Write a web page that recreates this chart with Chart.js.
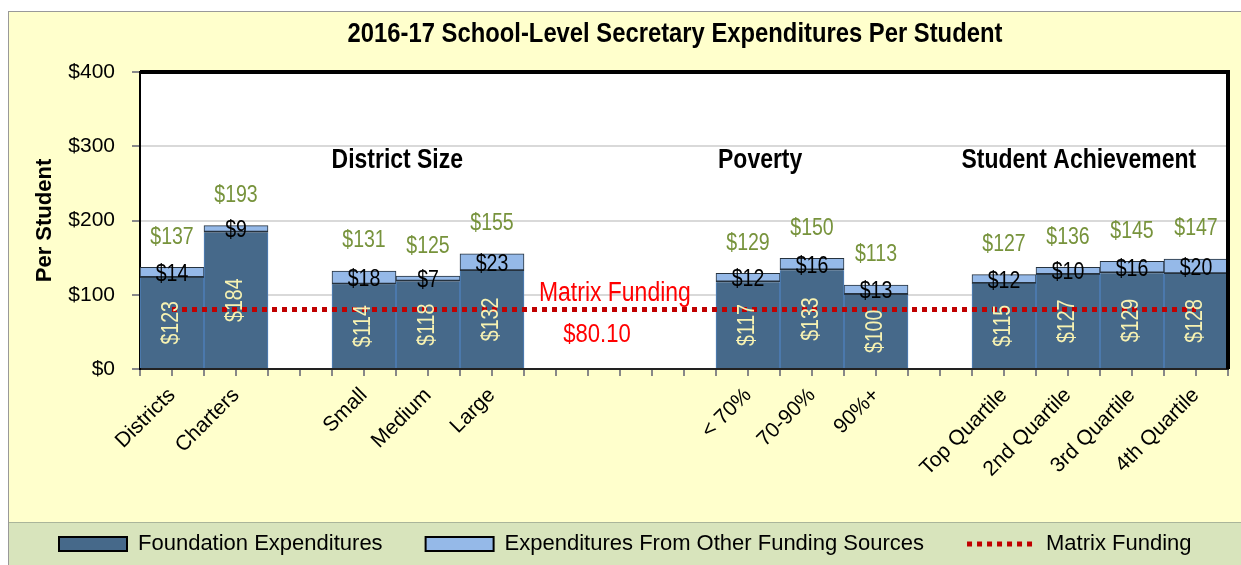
<!DOCTYPE html>
<html>
<head>
<meta charset="utf-8">
<script src="https://cdn.jsdelivr.net/npm/chart.js@4.4.1/dist/chart.umd.min.js"></script>
<style>
  html, body { margin: 0; padding: 0; background: #fff; }
  #wrap { width: 1241px; height: 565px; position: relative; }
</style>
</head>
<body>
<div id="wrap"><canvas id="school-chart"></canvas></div>
<script>
// categories (blank ones are the gaps between groups)
var categories = ['Districts', 'Charters', '', 'Small', 'Medium', 'Large', '', '', '',
  '< 70%', '70-90%', '90%+', '', 'Top Quartile', '2nd Quartile', '3rd Quartile', '4th Quartile'];
var foundation = [123, 184, null, 114, 118, 132, null, null, null, 117, 133, 100, null, 115, 127, 129, 128];
var otherSources = [14, 9, null, 18, 7, 23, null, null, null, 12, 16, 13, null, 12, 10, 16, 20];
var totals = [137, 193, null, 131, 125, 155, null, null, null, 129, 150, 113, null, 127, 136, 145, 147];
var matrixFunding = [80.1, 80.1, 80.1, 80.1, 80.1, 80.1, 80.1, 80.1, 80.1, 80.1, 80.1, 80.1, 80.1, 80.1, 80.1, 80.1, 80.1];
var yTicks = [0, 100, 200, 300, 400];
var tickSlots = ['', '', '', '', '', '', '', '', '', '', '', '', '', '', '', '', '',
  '', '', '', '', '', '', '', '', '', '', '', '', '', '', '', '', ''];

var FONT = '"Liberation Sans", Arial, sans-serif';

// draws text squeezed sideways, to look like Arial Narrow
function narrowText(c, text, x, y, font, color, angle) {
  c.save();
  c.translate(x, y);
  if (angle) c.rotate(angle);
  c.scale(0.85, 1);
  c.font = font;
  c.fillStyle = color;
  c.textAlign = 'center';
  c.textBaseline = 'middle';
  c.fillText(text, 0, 0);
  c.restore();
}

// background, frame, title, data labels and text boxes
var decor = {
  id: 'decor',
  beforeDraw: function(chart) {
    var c = chart.ctx, a = chart.chartArea;
    c.save();
    c.fillStyle = '#fff';
    c.fillRect(0, 0, chart.width, chart.height);
    c.fillStyle = '#FFFFCC';
    c.fillRect(8, 11, chart.width, chart.height);
    c.strokeStyle = '#999';
    c.lineWidth = 1;
    c.strokeRect(8.5, 11.5, chart.width, chart.height);
    c.fillStyle = '#D8E4BC';
    c.fillRect(9, 522, chart.width, chart.height);
    c.strokeStyle = '#AAB59A';
    c.beginPath(); c.moveTo(9, 522.5); c.lineTo(chart.width, 522.5); c.stroke();
    c.fillStyle = '#fff';
    c.fillRect(a.left, a.top, a.right - a.left, a.bottom - a.top);
    c.restore();
  },
  afterDatasetsDraw: function(chart) {
    var c = chart.ctx, a = chart.chartArea;
    var x = chart.scales.x, y = chart.scales.y;
    var m0 = chart.getDatasetMeta(0), m1 = chart.getDatasetMeta(1);
    c.save();
    // plot frame
    c.strokeStyle = '#000';
    c.lineWidth = 4;
    c.beginPath();
    c.moveTo(a.left, a.top); c.lineTo(a.right, a.top); c.lineTo(a.right, a.bottom);
    c.stroke();
    c.restore();

    for (var i = 0; i < categories.length; i++) {
      if (foundation[i] == null) continue;
      var b0 = m0.data[i], b1 = m1.data[i];
      narrowText(c, '$' + foundation[i], b0.x, (b0.y + b0.base) / 2, '23px ' + FONT, '#F7F2B2', -Math.PI / 2);
      narrowText(c, '$' + otherSources[i], b1.x, (b1.y + b1.base) / 2 + 2, '23px ' + FONT, '#000');
      narrowText(c, '$' + totals[i], b1.x, b1.y - 30, '23px ' + FONT, '#77933C');
    }

    // group headings
    var hy = y.getPixelForValue(281);
    narrowText(c, 'District Size', x.getPixelForValue(3.52), hy, 'bold 27px ' + FONT, '#000');
    narrowText(c, 'Poverty', x.getPixelForValue(9.19), hy, 'bold 27px ' + FONT, '#000');
    narrowText(c, 'Student Achievement', x.getPixelForValue(14.17), hy, 'bold 27px ' + FONT, '#000');

    // matrix funding note
    narrowText(c, 'Matrix Funding', x.getPixelForValue(6.92), y.getPixelForValue(102), '27px ' + FONT, '#FF0000');
    narrowText(c, '$80.10', x.getPixelForValue(6.64), y.getPixelForValue(46), '26px ' + FONT, '#FF0000');

    // title
    narrowText(c, '2016-17 School-Level Secretary Expenditures Per Student', 675, 34, 'bold 28px ' + FONT, '#000');
  }
};

var ctx = document.getElementById('school-chart');
var myChart = new Chart(ctx, {
  type: 'bar',
  data: {
    labels: categories,
    datasets: [{
      label: 'Foundation Expenditures',
      data: foundation,
      backgroundColor: '#46698A',
      borderColor: '#4F81BD',
      borderWidth: { left: 1, right: 1, top: 0, bottom: 0 },
      borderSkipped: false,
      stack: 's',
      order: 1
    }, {
      label: 'Expenditures From Other Funding Sources',
      data: otherSources,
      backgroundColor: '#95B9E8',
      borderColor: '#26323E',
      borderWidth: { left: 1, right: 1, top: 1, bottom: 2 },
      borderSkipped: false,
      stack: 's',
      order: 1
    }, {
      type: 'line',
      label: 'Matrix Funding',
      data: matrixFunding,
      borderColor: '#C00000',
      backgroundColor: '#C00000',
      borderWidth: 5,
      borderDash: [5, 5],
      pointRadius: 0,
      pointStyle: 'line',
      fill: false,
      order: 0
    }]
  },
  options: {
    responsive: true,
    maintainAspectRatio: false,
    animation: false,
    layout: { padding: { left: 16, right: 0, top: 72, bottom: 0 } },
    datasets: { bar: { barPercentage: 1, categoryPercentage: 1 } },
    scales: {
      x: {
        stacked: true,
        weight: 1,
        grid: { display: false, drawTicks: false },
        border: { display: true, color: '#222', width: 2 },
        ticks: {
          autoSkip: false, maxRotation: 45, minRotation: 45, padding: 14,
          color: '#000', font: { family: FONT, size: 21 }
        },
        afterFit: function(s) { s.height = 121; }
      },
      x2: {
        type: 'category',
        labels: tickSlots,
        position: 'bottom',
        weight: 0,
        offset: true,
        grid: { offset: true, drawOnChartArea: false, drawTicks: true, tickLength: 7, color: '#888', lineWidth: 2 },
        border: { display: false },
        ticks: { display: false, autoSkip: false },
        afterFit: function(s) { s.height = 0; }
      },
      y: {
        stacked: true,
        min: 0,
        max: 400,
        afterBuildTicks: function(s) { s.ticks = yTicks.map(function(v) { return { value: v }; }); },
        grid: { color: '#D9D9D9', lineWidth: 2, tickLength: 8, tickColor: '#888' },
        border: { display: true, color: '#000', width: 2 },
        ticks: {
          padding: 17, color: '#000', font: { family: FONT, size: 21 },
          callback: function(v) { return '$' + v; }
        },
        title: {
          display: true, text: 'Per Student', color: '#000',
          font: { family: FONT, size: 22, weight: 'bold' },
          padding: { top: 16, bottom: 0 }
        },
        afterFit: function(s) { s.width = 124; }
      },
      // empty right-hand margin so the legend can use the full width
      yRight: {
        type: 'linear',
        position: 'right',
        grid: { display: false },
        border: { display: false },
        ticks: { display: false },
        afterFit: function(s) { s.width = 13; }
      }
    },
    plugins: {
      title: { display: false },
      tooltip: { enabled: false },
      legend: {
        position: 'bottom',
        align: 'start',
        labels: {
          usePointStyle: true,
          pointStyleWidth: 68,
          boxWidth: 68,
          boxHeight: 14,
          padding: 43,
          color: '#000',
          font: { family: FONT, size: 22 },
          generateLabels: function(chart) {
            var items = Chart.defaults.plugins.legend.labels.generateLabels(chart);
            items.forEach(function(it) {
              if (it.datasetIndex < 2) {
                it.pointStyle = 'rect';
                it.lineWidth = 2;
                it.strokeStyle = '#000';
              } else {
                it.pointStyle = 'line';
                it.lineWidth = 5;
                it.lineDash = [5, 5];
              }
            });
            items.sort(function(p, q) { return p.datasetIndex - q.datasetIndex; });
            return items;
          }
        }
      }
    }
  },
  plugins: [decor]
});
</script>
</body>
</html>
